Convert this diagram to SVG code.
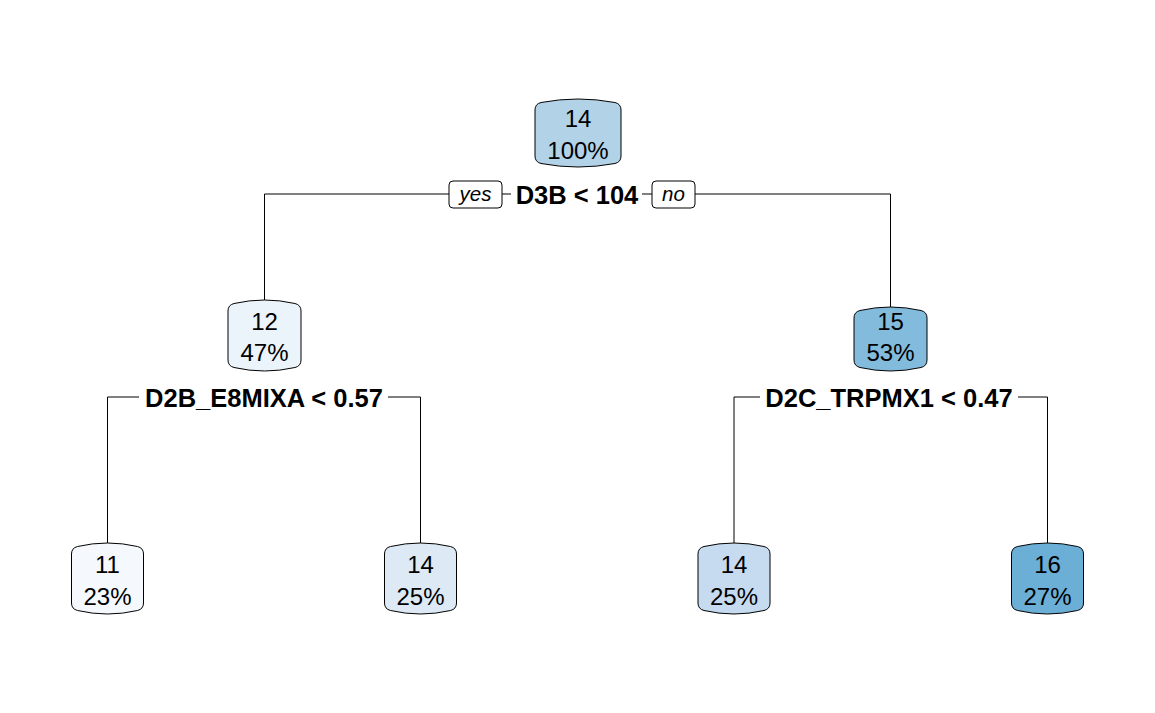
<svg xmlns="http://www.w3.org/2000/svg" width="1155" height="713" viewBox="0 0 1155 713">
<style>
  text { font-family: "Liberation Sans", Arial, sans-serif; fill: #000; }
  .nt { font-size: 24px; text-anchor: middle; }
  .split { font-size: 25.5px; font-weight: bold; text-anchor: middle; }
  .yn { font-size: 20.5px; font-style: italic; text-anchor: middle; }
  .box { stroke: #000; stroke-width: 1; }
  .edge { stroke: #000; stroke-width: 1; fill: none; }
  .lblbg { fill: #fff; stroke: none; }
  .ynbox { fill: #fff; stroke: #000; stroke-width: 1; }
</style>
<rect width="1155" height="713" fill="#fff"/>
<g id="connectors">
  <path class="edge" d="M264.5,300 L264.5,194 L890.5,194 L890.5,307"/>
  <path class="edge" d="M107.5,543 L107.5,397 L420.5,397 L420.5,543"/>
  <path class="edge" d="M734,543 L734,397 L1047.5,397 L1047.5,543"/>
  <rect class="ynbox" x="449" y="181" width="53" height="27" rx="4"/>
  <text class="yn" x="475.5" y="200.5">yes</text>
  <rect class="ynbox" x="652" y="181" width="43" height="27" rx="4"/>
  <text class="yn" x="673.5" y="200.5">no</text>
</g>
<g id="split-root">
  <rect class="lblbg" x="511" y="182" width="131" height="25"/>
  <text class="split" x="577" y="203.5">D3B &lt; 104</text>
</g>
<g id="split-left">
  <rect class="lblbg" x="139" y="384" width="249" height="26"/>
  <text class="split" x="264" y="406.5">D2B_E8MIXA &lt; 0.57</text>
</g>
<g id="split-right">
  <rect class="lblbg" x="760" y="384" width="258" height="26"/>
  <text class="split" x="889" y="406.5">D2C_TRPMX1 &lt; 0.47</text>
</g>
<g id="node-root">
  <path class="box" fill="#B2D2E8" transform="translate(535,99)" d="M0,11 Q0,5 6,3.5 Q43,-3.5 80,3.5 Q86,5 86,11 L86,57 Q86,63 80,64.5 Q43,71.5 6,64.5 Q0,63 0,57 Z"/>
  <text class="nt" x="578" y="127">14</text>
  <text class="nt" x="578" y="159">100%</text>
</g>
<g id="node-12">
  <path class="box" fill="#EBF3FB" transform="translate(228,300)" d="M0,11 Q0,5 6,3.5 Q36.5,-3.5 67,3.5 Q73,5 73,11 L73,60 Q73,66 67,67.5 Q36.5,74.5 6,67.5 Q0,66 0,60 Z"/>
  <text class="nt" x="264.5" y="330">12</text>
  <text class="nt" x="264.5" y="361">47%</text>
</g>
<g id="node-15">
  <path class="box" fill="#83BBDC" transform="translate(854,307)" d="M0,11 Q0,5 6,3.5 Q36.5,-3.5 67,3.5 Q73,5 73,11 L73,53 Q73,59 67,60.5 Q36.5,67.5 6,60.5 Q0,59 0,53 Z"/>
  <text class="nt" x="890.5" y="330">15</text>
  <text class="nt" x="890.5" y="361">53%</text>
</g>
<g id="leaf-11">
  <path class="box" fill="#F5F9FE" transform="translate(71.5,543)" d="M0,11 Q0,5 6,3.5 Q36,-3.5 66,3.5 Q72,5 72,11 L72,60 Q72,66 66,67.5 Q36,74.5 6,67.5 Q0,66 0,60 Z"/>
  <text class="nt" x="107.5" y="573">11</text>
  <text class="nt" x="107.5" y="605">23%</text>
</g>
<g id="leaf-14a">
  <path class="box" fill="#DDEAF6" transform="translate(384.5,543)" d="M0,11 Q0,5 6,3.5 Q36,-3.5 66,3.5 Q72,5 72,11 L72,60 Q72,66 66,67.5 Q36,74.5 6,67.5 Q0,66 0,60 Z"/>
  <text class="nt" x="420.5" y="573">14</text>
  <text class="nt" x="420.5" y="605">25%</text>
</g>
<g id="leaf-14b">
  <path class="box" fill="#C6DBEF" transform="translate(698,543)" d="M0,11 Q0,5 6,3.5 Q36,-3.5 66,3.5 Q72,5 72,11 L72,60 Q72,66 66,67.5 Q36,74.5 6,67.5 Q0,66 0,60 Z"/>
  <text class="nt" x="734" y="573">14</text>
  <text class="nt" x="734" y="605">25%</text>
</g>
<g id="leaf-16">
  <path class="box" fill="#6BAED6" transform="translate(1011.5,543)" d="M0,11 Q0,5 6,3.5 Q36,-3.5 66,3.5 Q72,5 72,11 L72,60 Q72,66 66,67.5 Q36,74.5 6,67.5 Q0,66 0,60 Z"/>
  <text class="nt" x="1047.5" y="573">16</text>
  <text class="nt" x="1047.5" y="605">27%</text>
</g>
</svg>
